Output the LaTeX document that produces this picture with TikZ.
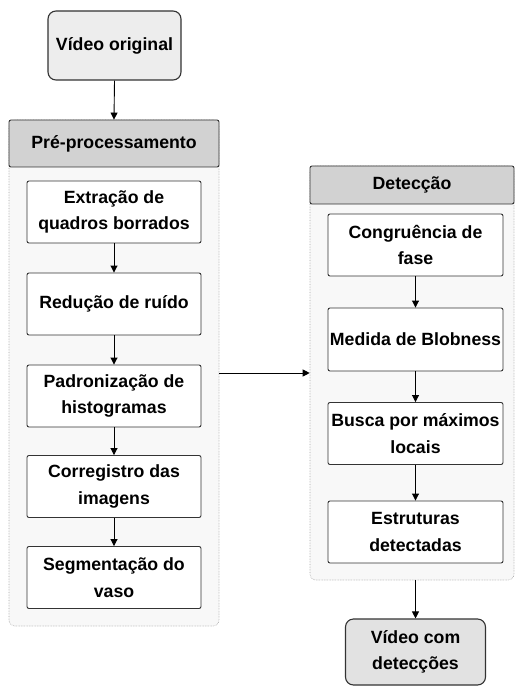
\documentclass[tikz,border=0pt]{standalone}
\usepackage{fontspec}
\setmainfont{Liberation Sans}
\usetikzlibrary{arrows.meta}
\definecolor{hdr}{HTML}{D2D2D2}
\definecolor{term}{HTML}{EDEDED}
\definecolor{terb}{HTML}{E2E2E2}
\definecolor{cont}{HTML}{F8F8F8}
\definecolor{edge}{HTML}{333333}
\begin{document}
\begin{tikzpicture}[x=1pt,y=-1pt,
  every node/.style={font=\fontsize{17.7}{26.5}\selectfont\bfseries, align=center, inner sep=0pt},
  stepbox/.style={draw=edge, line width=0.9pt, fill=white, rounded corners=2pt, minimum width=174pt, minimum height=62pt},
  termbox/.style={draw=edge, line width=1.1pt, fill=term, rounded corners=8pt},
  hdrbox/.style={draw=edge, line width=0.9pt, fill=hdr, rounded corners=2pt},
  contbox/.style={draw=gray!70, densely dotted, line width=0.6pt, fill=cont, rounded corners=6pt},
  arr/.style={draw=black, line width=0.9pt, -{Triangle[length=7pt,width=7pt]}}]
\useasboundingbox (0,0) rectangle (515,687);
% containers
\node[contbox, minimum width=210pt, minimum height=506pt] (lc) at (114,373) {};
\node[contbox, minimum width=204pt, minimum height=414pt] (rc) at (412,373) {};
% headers
\node[hdrbox, minimum width=210pt, minimum height=47pt] (hl) at (114,143.5) {Pré-processamento};
\node[hdrbox, minimum width=204pt, minimum height=38pt] (hr) at (412,185) {Detecção};
% terminals
\node[termbox, minimum width=133pt, minimum height=69pt] (vo) at (114.5,45.5) {Vídeo original};
\node[termbox, fill=terb, minimum width=140pt, minimum height=66pt] (vd) at (415.5,652) {Vídeo com\\detecções};
% left steps
\node[stepbox] (l1) at (114,212) {Extração de\\quadros borrados};
\node[stepbox] (l2) at (114,304) {Redução de ruído};
\node[stepbox] (l3) at (114,396) {Padronização de\\histogramas};
\node[stepbox] (l4) at (114,486.5) {Corregistro das\\imagens};
\node[stepbox] (l5) at (114,577.5) {Segmentação do\\vaso};
% right steps
\node[stepbox, minimum width=175pt] (r1) at (415.5,245) {Congruência de\\fase};
\node[stepbox, minimum width=175pt, minimum height=63pt] (r2) at (415.5,339.5) {Medida de Blobness};
\node[stepbox, minimum width=175pt] (r3) at (415.5,433.5) {Busca por máximos\\locais};
\node[stepbox, minimum width=175pt] (r4) at (415.5,532) {Estruturas\\detectadas};
% connectors
\draw[arr] (vo.south) -- (hl.north);
\draw[arr] (l1) -- (l2);
\draw[arr] (l2) -- (l3);
\draw[arr] (l3) -- (l4);
\draw[arr] (l4) -- (l5);
\draw[arr] (r1) -- (r2);
\draw[arr] (r2) -- (r3);
\draw[arr] (r3) -- (r4);
\draw[arr] (lc.east) -- (rc.west);
\draw[arr] (vd.north |- rc.south) -- (vd.north);
\end{tikzpicture}
\end{document}
